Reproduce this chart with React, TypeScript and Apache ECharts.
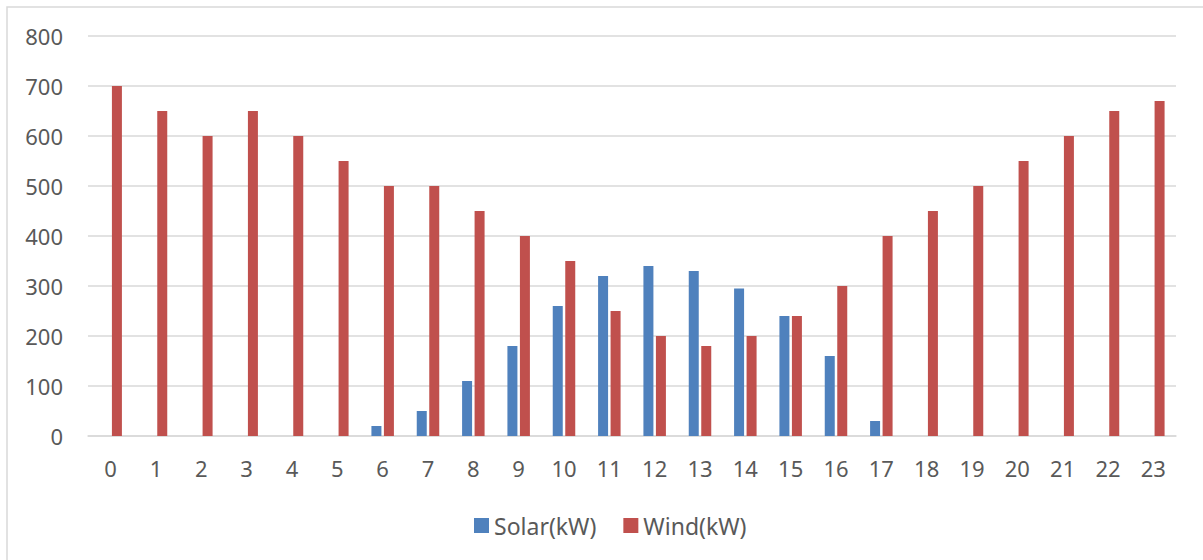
import React, { useEffect, useRef } from "react";
import * as echarts from "echarts";

const hours = ["0","1","2","3","4","5","6","7","8","9","10","11","12","13","14","15","16","17","18","19","20","21","22","23"];
const solar = [0,0,0,0,0,0,20,50,110,180,260,320,340,330,295,240,160,30,0,0,0,0,0,0];
const wind = [700,650,600,650,600,550,500,500,450,400,350,250,200,180,200,240,300,400,450,500,550,600,650,670];
const seriesNames = ["Solar(kW)", "Wind(kW)"];
const colors = ["#4F81BD", "#C0504D"];

const FONT = "'Noto Sans', 'Open Sans', sans-serif";
const TXT = "#595959";

export default function App() {
  const ref = useRef<HTMLDivElement>(null);
  useEffect(() => {
    if (!ref.current) return;
    const chart = echarts.init(ref.current, undefined, { renderer: "svg" });
    chart.setOption({
      animation: false,
      backgroundColor: "#ffffff",
      textStyle: { fontFamily: FONT },
      grid: { left: 88, top: 36, width: 1088, height: 400, containLabel: false },
      graphic: [
        {
          type: "rect",
          shape: { x: 7, y: 7, width: 1400, height: 800 },
          style: { fill: "none", stroke: "#d9d9d9", lineWidth: 1.5 },
          silent: true,
        },
      ],
      legend: {
        left: 469,
        top: 509,
        itemWidth: 15,
        itemHeight: 15,
        itemGap: 27,
        icon: "rect",
        textStyle: { fontSize: 23, color: TXT, fontFamily: FONT, padding: [0, 0, 0, 0] },
        data: seriesNames,
      },
      xAxis: {
        type: "category",
        data: hours,
        axisLine: { show: true, lineStyle: { color: "#d9d9d9", width: 1.5 } },
        axisTick: { show: false },
        axisLabel: { fontSize: 22, color: TXT, margin: 21, fontFamily: FONT },
        splitLine: { show: false },
      },
      yAxis: {
        type: "value",
        min: 0,
        max: 800,
        interval: 100,
        axisLine: { show: false },
        axisTick: { show: false },
        axisLabel: { fontSize: 22, color: TXT, margin: 25, fontFamily: FONT },
        splitLine: { lineStyle: { color: "#d9d9d9", width: 1.5 } },
      },
      series: [
        {
          name: seriesNames[0],
          type: "bar",
          data: solar,
          barWidth: 10,
          barGap: "25%",
          itemStyle: { color: colors[0] },
        },
        {
          name: seriesNames[1],
          type: "bar",
          data: wind,
          barWidth: 10,
          barGap: "25%",
          itemStyle: { color: colors[1] },
        },
      ],
    });
    return () => chart.dispose();
  }, []);
  return (
    <div
      ref={ref}
      style={{ position: "fixed", left: 0, top: 0, width: 1203, height: 560 }}
    />
  );
}
